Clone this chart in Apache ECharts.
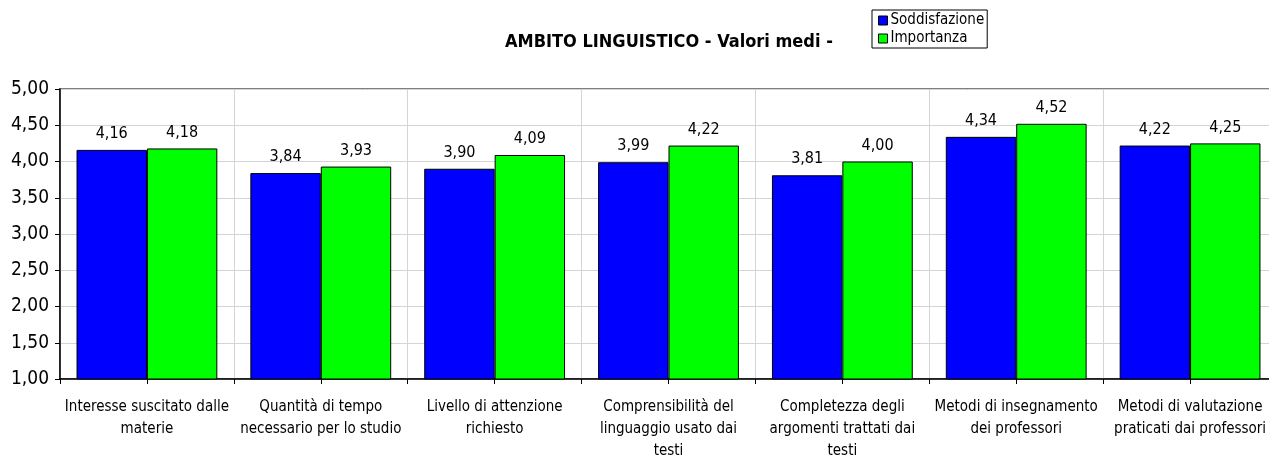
<!DOCTYPE html>
<html><head><meta charset="utf-8">
<script src="https://cdn.jsdelivr.net/npm/echarts@6/dist/echarts.min.js"></script>
<style>html,body{margin:0;padding:0;background:#fff}#c{width:1269px;height:459px}</style>
</head><body><div id="c"></div>
<script>
const categories = [
  "Interesse suscitato dalle\nmaterie",
  "Quantità di tempo\nnecessario per lo studio",
  "Livello di attenzione\nrichiesto",
  "Comprensibilità del\nlinguaggio usato dai\ntesti",
  "Completezza degli\nargomenti trattati dai\ntesti",
  "Metodi di insegnamento\ndei professori",
  "Metodi di valutazione\npraticati dai professori"
];
const soddisfazione = [4.16, 3.84, 3.90, 3.99, 3.81, 4.34, 4.22];
const importanza = [4.18, 3.93, 4.09, 4.22, 4.00, 4.52, 4.25];
const seriesNames = ["Soddisfazione", "Importanza"];
const titleText = "AMBITO LINGUISTICO - Valori medi -";

const FONT = "DejaVu Sans Condensed";
const fmt = v => v.toFixed(2).replace('.', ',');
const halfTicks = categories.flatMap(() => ['', '']);

const chart = echarts.init(document.getElementById('c'));
chart.setOption({
  animation: false,
  backgroundColor: '#fff',
  title: {
    text: titleText, left: 505, top: 33,
    padding: 0,
    textStyle: { fontFamily: FONT, fontWeight: 'bold', fontSize: 18, color: '#000', letterSpacing: -1.1 }
  },
  legend: {
    orient: 'vertical', left: 872, top: 10,
    borderColor: '#000', borderWidth: 1, borderRadius: 0,
    padding: [3, 3, 2, 6], itemGap: 3,
    itemWidth: 9, itemHeight: 9, icon: 'rect',
    textStyle: { fontFamily: FONT, fontSize: 15, color: '#000', padding: [0, 0, 0, -2] },
    itemStyle: { borderColor: '#000', borderWidth: 1 },
    data: seriesNames
  },
  grid: { left: 60, top: 89, width: 1217, height: 290, show: true, borderColor: '#808080', borderWidth: 2, outerBoundsMode: 'none' },
  xAxis: [{
    type: 'category', data: categories,
    axisLine: { lineStyle: { color: '#000', width: 1.5 } },
    axisTick: { show: true, length: 5, lineStyle: { color: '#000' } },
    splitLine: { show: true, lineStyle: { color: '#d4d4d4', width: 1 } },
    axisLabel: { fontFamily: FONT, fontSize: 15, color: '#000', margin: 17, lineHeight: 22, interval: 0 }
  }, {
    type: 'category', data: halfTicks, position: 'bottom',
    axisLine: { show: false },
    axisTick: { show: true, length: 5, interval: 0, lineStyle: { color: '#000' } },
    axisLabel: { show: false }, splitLine: { show: false }
  }],
  yAxis: {
    type: 'value', min: 1, max: 5, interval: 0.5,
    axisLine: { show: true, lineStyle: { color: '#000', width: 1.5 } },
    axisTick: { show: true, length: 5, lineStyle: { color: '#000' } },
    splitLine: { show: true, lineStyle: { color: '#d4d4d4', width: 1 } },
    axisLabel: { fontFamily: FONT, fontSize: 19, color: '#000', margin: 11, formatter: v => fmt(v) }
  },
  series: [
    { name: seriesNames[0], type: 'bar', data: soddisfazione, barGap: '0%', barCategoryGap: '19%',
      itemStyle: { color: '#0000FF', borderColor: '#000', borderWidth: 1 },
      label: { show: true, position: 'top', distance: 8, fontFamily: FONT, fontSize: 16, color: '#000', formatter: p => fmt(p.value) } },
    { name: seriesNames[1], type: 'bar', data: importanza, barGap: '0%', barCategoryGap: '19%',
      itemStyle: { color: '#00FF00', borderColor: '#000', borderWidth: 1 },
      label: { show: true, position: 'top', distance: 8, fontFamily: FONT, fontSize: 16, color: '#000', formatter: p => fmt(p.value) } }
  ]
});
</script></body></html>
